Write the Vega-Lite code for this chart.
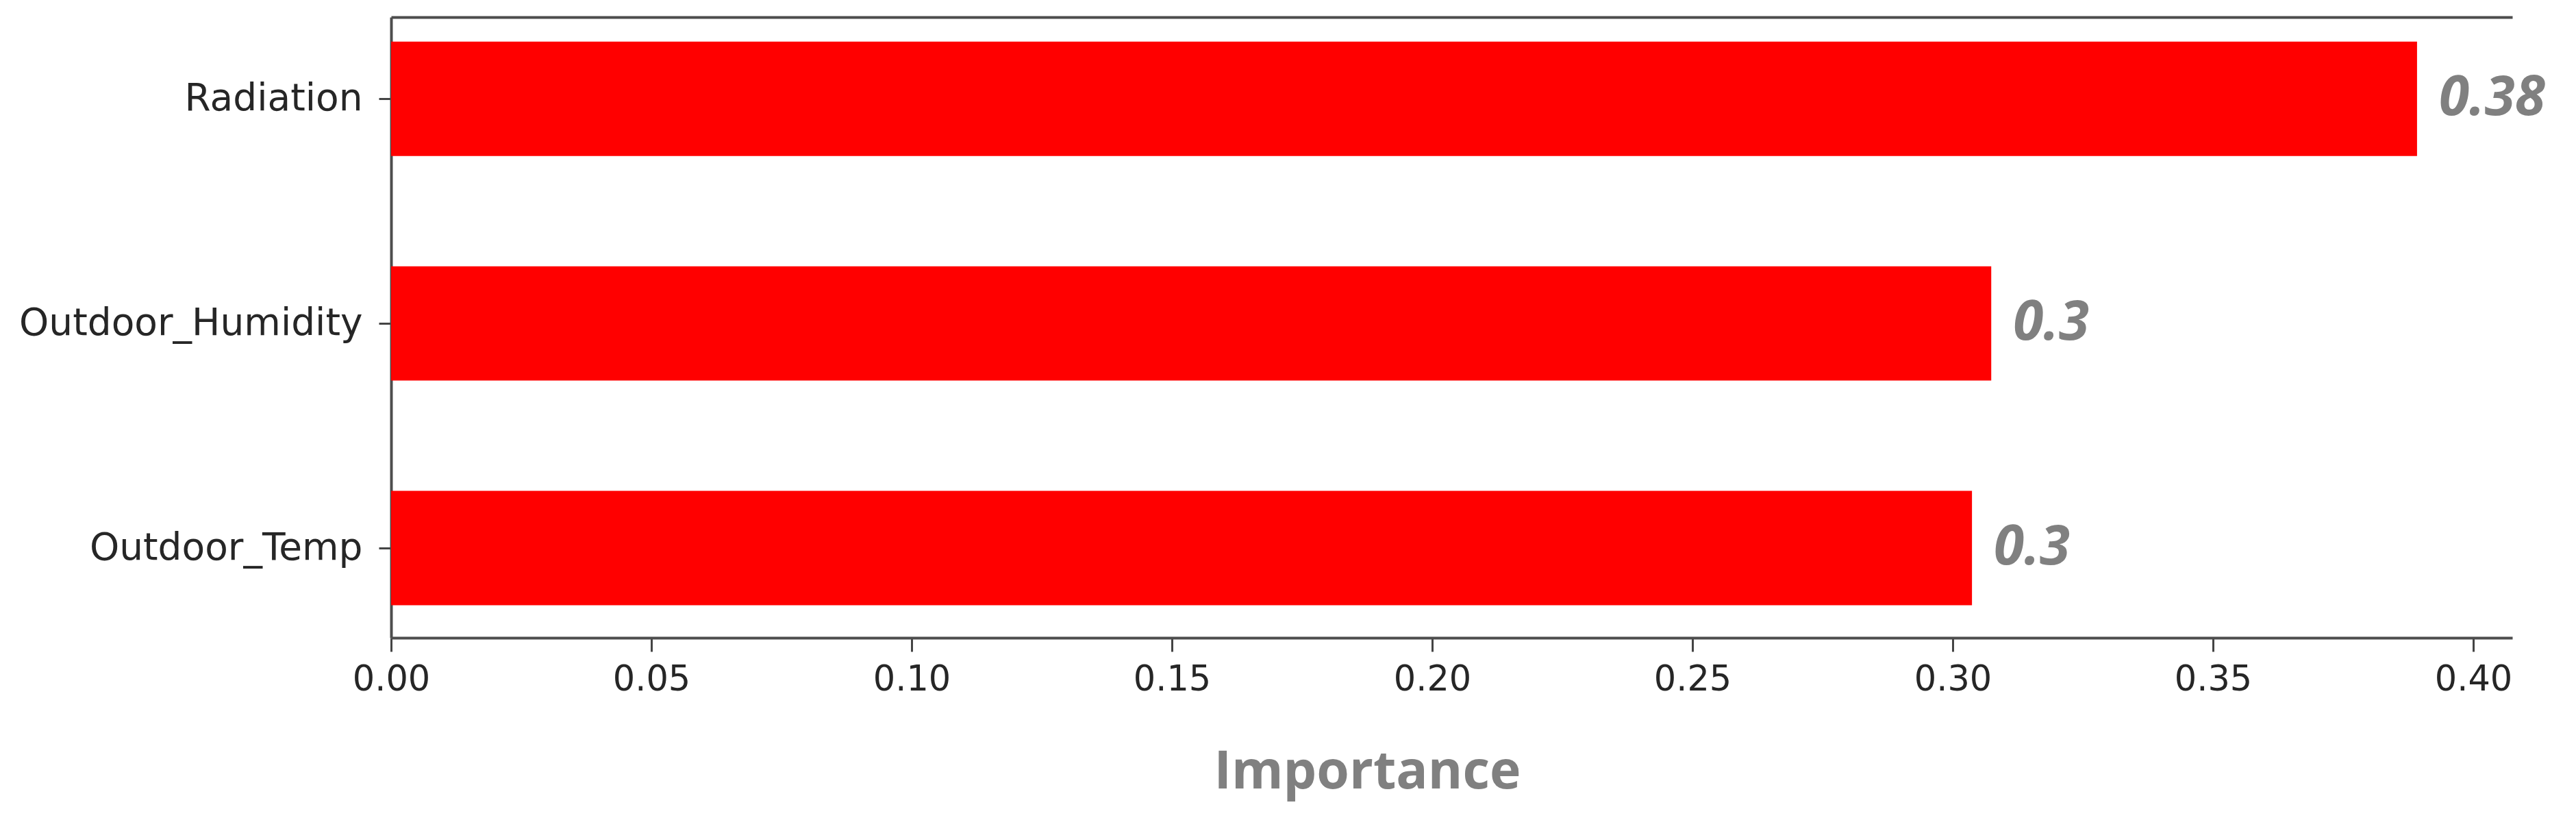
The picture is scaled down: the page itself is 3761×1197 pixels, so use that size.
{
  "$schema": "https://vega.github.io/schema/vega-lite/v6.json",
  "autosize": {"type": "none"},
  "width": 3097,
  "height": 906,
  "padding": {"left": 571, "top": 25, "right": 93, "bottom": 266},
  "background": "white",
  "config": {
    "view": {"stroke": null},
    "axis": {"grid": false}
  },
  "data": {
    "values": [
      {"feature": "Radiation", "importance": 0.3892, "label": "0.38"},
      {"feature": "Outdoor_Humidity", "importance": 0.3074, "label": "0.3"},
      {"feature": "Outdoor_Temp", "importance": 0.3037, "label": "0.3"}
    ]
  },
  "encoding": {
    "y": {
      "field": "feature",
      "type": "nominal",
      "sort": ["Radiation", "Outdoor_Humidity", "Outdoor_Temp"],
      "scale": {"paddingInner": 0.491, "paddingOuter": 0.127, "align": 0.43},
      "axis": {
        "title": null,
        "labelFont": "DejaVu Sans",
        "labelFontSize": 55,
        "labelColor": "#262626",
        "labelPadding": 24,
        "labelLimit": 0,
        "tickSize": 18,
        "tickWidth": 3,
        "tickColor": "#444444",
        "domainColor": "#4d4d4d",
        "domainWidth": 4
      }
    }
  },
  "layer": [
    {
      "mark": {"type": "bar", "color": "#ff0000"},
      "encoding": {
        "x": {
          "field": "importance",
          "type": "quantitative",
          "scale": {"domain": [0, 0.4075], "nice": false, "zero": true},
          "axis": {
            "title": "Importance",
            "titleFont": "Open Sans",
            "titleFontWeight": "bold",
            "titleFontSize": 77,
            "titleColor": "#808080",
            "titleAnchor": "start",
            "titleAlign": "center",
            "titleBaseline": "alphabetic",
            "titleX": 1425,
            "titleY": 219,
            "values": [0, 0.05, 0.1, 0.15, 0.2, 0.25, 0.3, 0.35, 0.4],
            "format": ".2f",
            "labelFont": "DejaVu Sans",
            "labelFontSize": 51,
            "labelColor": "#262626",
            "labelPadding": 16,
            "labelFlush": false,
            "tickSize": 20,
            "tickWidth": 3,
            "tickColor": "#444444",
            "domainColor": "#4d4d4d",
            "domainWidth": 4
          }
        }
      }
    },
    {
      "mark": {
        "type": "text",
        "align": "left",
        "baseline": "middle",
        "dx": 32,
        "font": "Open Sans",
        "fontSize": 80,
        "fontStyle": "italic",
        "fontWeight": "bold",
        "color": "#808080"
      },
      "encoding": {
        "x": {
          "field": "importance",
          "type": "quantitative",
          "scale": {"domain": [0, 0.4075], "nice": false, "zero": true},
          "axis": {
            "orient": "top",
            "title": null,
            "labels": false,
            "ticks": false,
            "domainColor": "#4d4d4d",
            "domainWidth": 4
          }
        },
        "text": {"field": "label"}
      }
    }
  ],
  "resolve": {"axis": {"x": "independent"}}
}
